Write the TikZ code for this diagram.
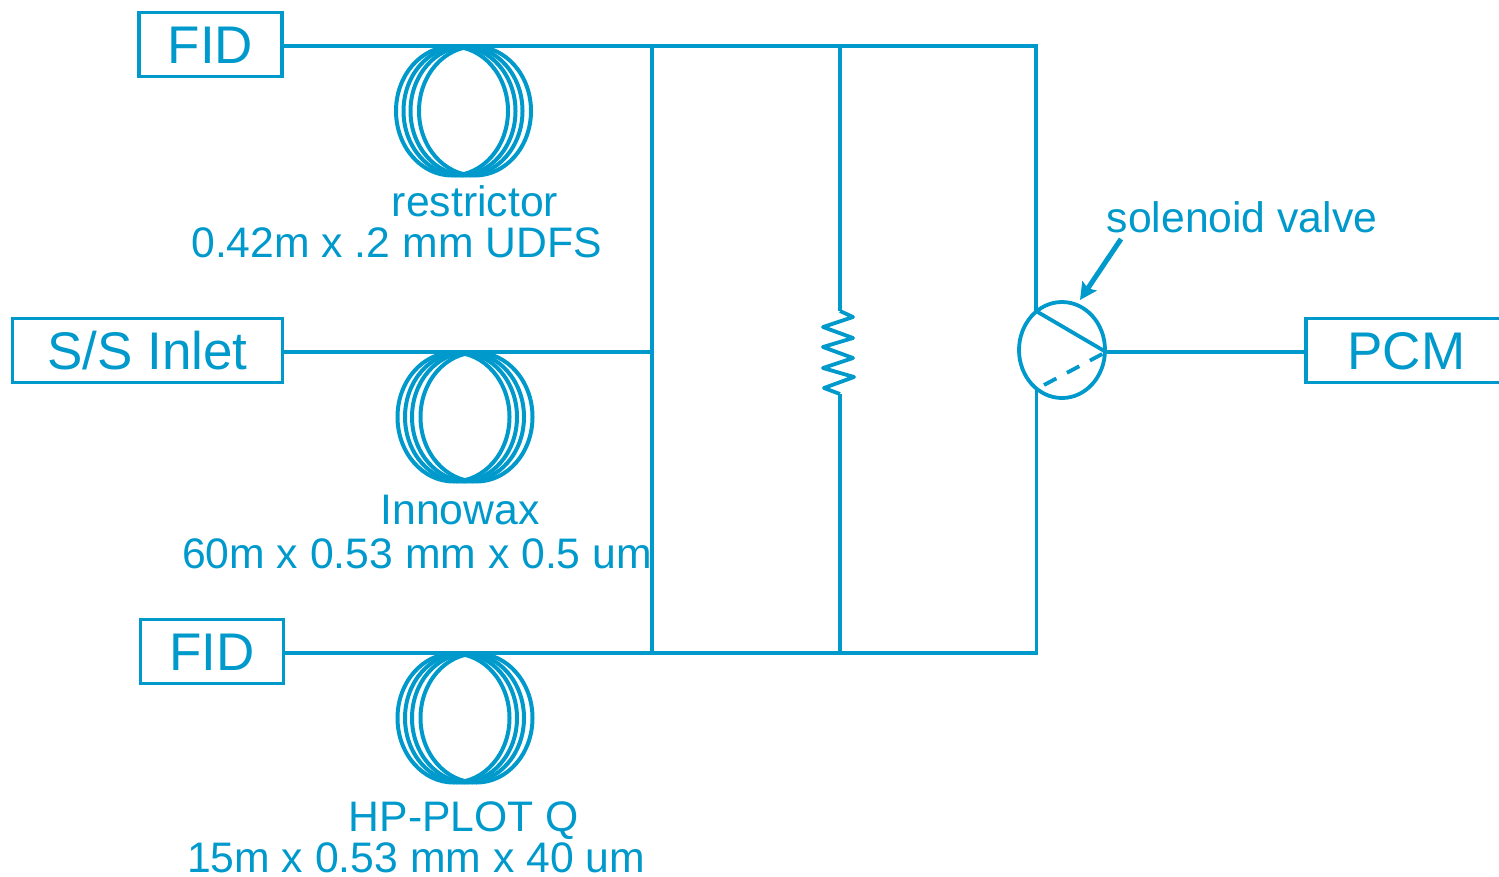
\documentclass[tikz,border=0pt]{standalone}
\usepackage{fontspec}
\setmainfont{Liberation Sans}
\usetikzlibrary{shapes.geometric,arrows.meta}
\definecolor{gcblue}{HTML}{0099CC}
\tikzset{
  wire/.style={draw=gcblue,line width=3.8pt,line cap=butt,line join=miter},
  devbox/.style={draw=gcblue,line width=3.8pt,rectangle,inner sep=0pt,minimum height=64pt,text=gcblue,font=\fontsize{53}{53}\selectfont,text height=38pt,text depth=0pt},
  loop/.style={draw=gcblue,line width=4pt,ellipse,inner sep=0pt,minimum width=112pt,minimum height=129pt},
  lbl/.style={text=gcblue,font=\fontsize{42.7}{43}\selectfont,anchor=base,inner sep=0pt},
}
\begin{document}
\begin{tikzpicture}[x=1pt,y=-1pt]
\useasboundingbox (0,0) rectangle (1499,876);
% boxes
\node[devbox,minimum width=143pt] (fidtop) at (210.5,44.5) {FID};
\node[devbox,minimum width=270pt] (inlet) at (147.5,350.5) {S/S Inlet};
\node[devbox,minimum width=143pt] (fidbot) at (212,651.5) {FID};
\clip (0,0) rectangle (1499,876);
\node[devbox,minimum width=201pt] (pcm) at (1406.5,350.5) {PCM};
% coils
\foreach \n/\cx in {a/452,b/459.5,c/466.5,d/475}{
  \node[loop] (coilone\n) at (\cx,111) {};
}
\foreach \n/\cx in {a/453.5,b/461,c/468,d/476.5}{
  \node[loop] (coiltwo\n) at (\cx,417) {};
  \node[loop] (coilthree\n) at (\cx,718) {};
}
% junctions
\coordinate (jta) at (652,46);
\coordinate (jtb) at (840,46);
\coordinate (jtc) at (1036,46);
\coordinate (jm) at (652,352);
\coordinate (jba) at (652,653);
\coordinate (jbb) at (840,653);
\coordinate (jbc) at (1036.5,653);
\coordinate (vtop) at (1036,311);
\coordinate (vbot) at (1036.5,389);
\coordinate (vr) at (1106,352);
\coordinate (rt) at (840,311);
\coordinate (rb) at (840,394);
\coordinate (dash) at (1044,385);
\coordinate (arrowstart) at (1121,239);
\coordinate (arrowend) at (1080,300);
% valve
\node[draw=gcblue,line width=3.8pt,ellipse,inner sep=0pt,minimum width=86pt,minimum height=96pt] (valve) at (1062,350) {};
% wires
\draw[wire] (fidtop.east |- jta) -- (jtc) -- (vtop);
\draw[wire] (fidbot.east |- jba) -- (jbc) -- (vbot);
\draw[wire] (inlet.east |- jm) -- (jm);
\draw[wire] (jta) -- (jba);
\draw[wire] (jtb) -- (rt);
\draw[wire,line join=round] (rt) -- (853,317) -- (823,327) -- (853,338) -- (823,347) -- (853,358) -- (823,368) -- (854,377) -- (824,388) -- (rb);
\draw[wire] (rb) -- (jbb);
\draw[wire] (vr) -- (pcm.west |- vr);
\draw[wire] (vtop) -- (vr);
\draw[wire,dash pattern=on 14pt off 12pt] (dash) -- (vr);
\draw[draw=gcblue,fill=gcblue,line width=5pt,-{Stealth[length=17pt,width=17pt,inset=3pt]}] (arrowstart) -- (arrowend);
% labels
\node[lbl] (l1) at (475,216) {restrictor};
\node[lbl] (l2) at (396.5,257) {0.42m x .2 mm UDFS};
\node[lbl] (l3) at (460,524) {Innowax};
\node[lbl] (l4) at (417,568) {60m x 0.53 mm x 0.5 um};
\node[lbl] (l5) at (464,831) {HP-PLOT Q};
\node[lbl] (l6) at (416,872) {15m x 0.53 mm x 40 um};
\node[lbl] (l7) at (1242,232) {solenoid valve};
\end{tikzpicture}
\end{document}
